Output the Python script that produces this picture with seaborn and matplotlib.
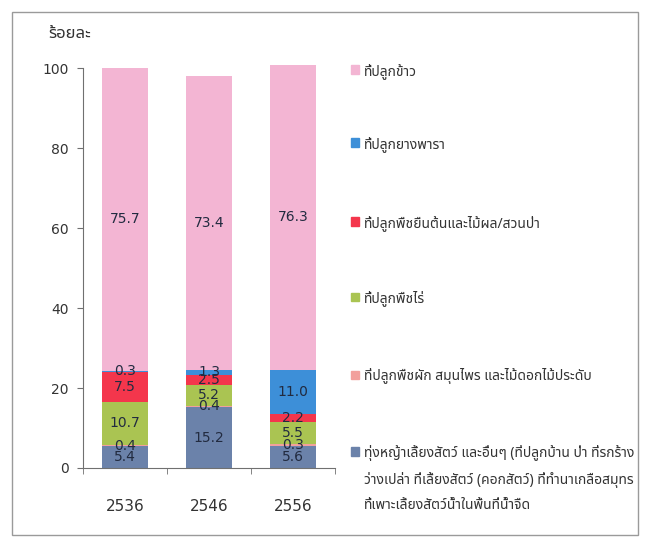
import numpy as np
import seaborn as sns
import matplotlib
matplotlib.use('Agg')
import matplotlib.pyplot as plt
from matplotlib import font_manager
from matplotlib.patches import Rectangle

# ข้อมูล (ร้อยละ)
years = ['2536', '2546', '2556']
labels = ['ทุ่งหญ้าเลี้ยงสัตว์ และอื่นๆ (ที่ปลูกบ้าน ป่า ที่รกร้าง\n'
          'ว่างเปล่า ที่เลี้ยงสัตว์ (คอกสัตว์) ที่ทำนาเกลือสมุทร\n'
          'ที่เพาะเลี้ยงสัตว์น้ำในพื้นที่น้ำจืด',
          'ที่ปลูกพืชผัก สมุนไพร และไม้ดอกไม้ประดับ',
          'ที่ปลูกพืชไร่',
          'ที่ปลูกพืชยืนต้นและไม้ผล/สวนป่า',
          'ที่ปลูกยางพารา',
          'ที่ปลูกข้าว']
grass = [5.4, 15.2, 5.6]
veg = [0.4, 0.4, 0.3]
field = [10.7, 5.2, 5.5]
perennial = [7.5, 2.5, 2.2]
rubber = [0.3, 1.3, 11.0]
rice = [75.7, 73.4, 76.3]
colors = ['#6B82AA', '#F2A09C', '#AAC452', '#F4364C', '#3D8FD8', '#F3B5D3']

# ฟอนต์ไทย
names = {f.name for f in font_manager.fontManager.ttflist}
thai = [n for n in ['Noto Sans Thai', 'Sarabun', 'Loma', 'Garuda', 'Tahoma',
                    'IBM Plex Sans Thai'] if n in names]

sns.set_style('ticks')
plt.rcParams['font.family'] = thai[:1] + ['DejaVu Sans']

fig = plt.figure(figsize=(6.47, 5.41), dpi=100)
ax = fig.add_axes([0.128, 0.135, 0.39, 0.739])

series = [grass, veg, field, perennial, rubber, rice]
cum = np.cumsum(np.array(series), axis=0)
for i in range(len(series) - 1, -1, -1):
    sns.barplot(x=years, y=cum[i], color=colors[i], width=0.55, ax=ax,
                saturation=1, linewidth=0)
for bar in ax.patches:
    bar.set_clip_on(False)

# ป้ายตัวเลข
for i, s in enumerate(series):
    for j, v in enumerate(s):
        ax.text(j, cum[i][j] - v / 2, f'{v:.1f}', ha='center', va='center',
                fontsize=10, color='#222B40', family='DejaVu Sans')

ax.set_ylim(0, 100)
ax.set_xlim(-0.5, 2.5)
ax.set_yticks(range(0, 101, 20))
sns.despine(ax=ax)
ax.spines['left'].set_color('#707070')
ax.spines['bottom'].set_color('#707070')
ax.tick_params(axis='y', length=4, color='#707070', labelsize=10, pad=6)
ax.tick_params(axis='x', which='major', length=0, labelsize=11, pad=22)
ax.set_xticks([-0.5, 0.5, 1.5, 2.5], minor=True)
ax.tick_params(axis='x', which='minor', length=4, color='#707070')
for t in ax.get_xticklabels() + ax.get_yticklabels():
    t.set_family('DejaVu Sans')
    t.set_color('#333333')

fig.text(0.075, 0.93, 'ร้อยละ', fontsize=12, fontweight='bold', color='#333333')

# คำอธิบายสัญลักษณ์
ys = [0.872, 0.736, 0.590, 0.451, 0.307, 0.165]
for k, y in enumerate(ys):
    idx = len(series) - 1 - k
    fig.patches.append(Rectangle((0.543, y - 0.008), 0.012, 0.016,
                                 transform=fig.transFigure, color=colors[idx]))
    fig.text(0.562, y + 0.012, labels[idx], fontsize=10, va='top',
             color='#333333', linespacing=1.9)

# กรอบ
fig.patches.append(Rectangle((0.018, 0.012), 0.968, 0.965, transform=fig.transFigure,
                             fill=False, edgecolor='#9A9A9A', linewidth=1))
fig.savefig('out.png')
